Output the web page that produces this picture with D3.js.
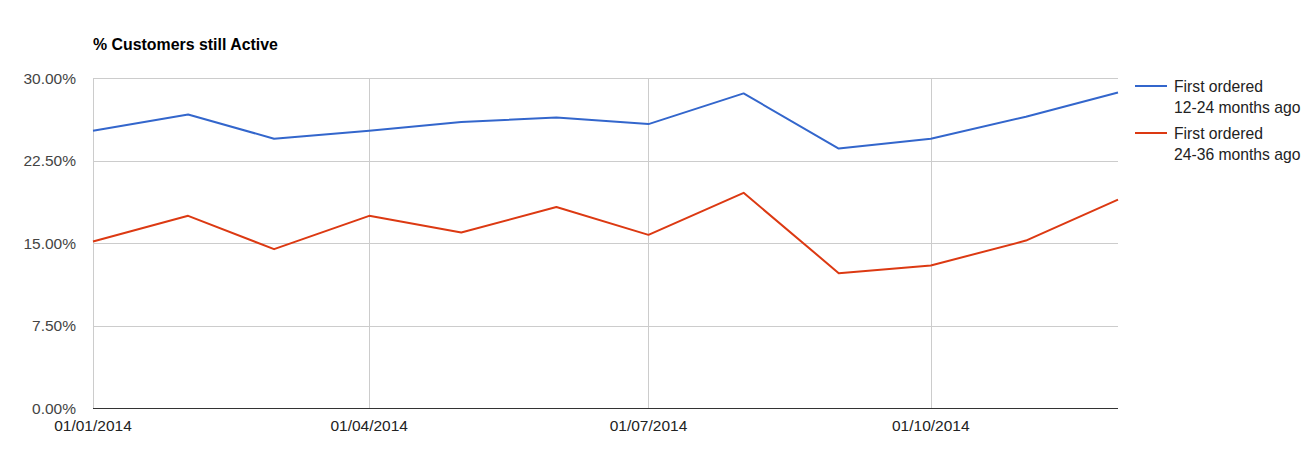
<!DOCTYPE html>
<html>
<head>
<meta charset="utf-8">
<script src="https://cdn.jsdelivr.net/npm/d3@7/dist/d3.min.js"></script>
<style>
  html, body { margin: 0; padding: 0; background: #fff; }
  svg { display: block; font-family: "Liberation Sans", Arial, sans-serif; }
</style>
</head>
<body>
<svg id="chart" width="1311" height="457"></svg>
<script>
const months = ["2014-01-01","2014-02-01","2014-03-01","2014-04-01","2014-05-01","2014-06-01",
                "2014-07-01","2014-08-01","2014-09-01","2014-10-01","2014-11-01","2014-12-01"];
const series1Name = ["First ordered", "12-24 months ago"];
const series2Name = ["First ordered", "24-36 months ago"];
const series1 = [25.20, 26.68, 24.48, 25.20, 26.00, 26.40, 25.81, 28.60, 23.59, 24.48, 26.48, 28.69];
const series2 = [15.13, 17.47, 14.44, 17.47, 15.95, 18.27, 15.74, 19.56, 12.26, 12.95, 15.22, 18.95];
const yTicks = [0, 7.5, 15, 22.5, 30];
const xTicks = ["2014-01-01","2014-04-01","2014-07-01","2014-10-01"];
const title = "% Customers still Active";

(function () {
const parse = d3.utcParse("%Y-%m-%d");
const fmtDate = d3.utcFormat("%d/%m/%Y");
const dates = months.map(parse);

const svg = d3.select("#chart");
const mLeft = 93, mRight = 1118, mTop = 78, mBottom = 408;

const x = d3.scaleUtc().domain([dates[0], dates[dates.length - 1]]).range([mLeft, mRight]);
const y = d3.scaleLinear().domain([0, 30]).range([mBottom, mTop]);

// horizontal gridlines
svg.append("g").selectAll("line").data(yTicks.filter(t => t > 0)).join("line")
  .attr("x1", mLeft).attr("x2", mRight)
  .attr("y1", d => Math.round(y(d)) + 0.5).attr("y2", d => Math.round(y(d)) + 0.5)
  .attr("stroke", "#cccccc").attr("stroke-width", 1);

// vertical gridlines
svg.append("g").selectAll("line").data(xTicks.map(parse)).join("line")
  .attr("x1", d => Math.round(x(d)) + 0.5).attr("x2", d => Math.round(x(d)) + 0.5)
  .attr("y1", mTop).attr("y2", mBottom)
  .attr("stroke", "#cccccc").attr("stroke-width", 1);

// baseline
svg.append("line")
  .attr("x1", mLeft).attr("x2", mRight)
  .attr("y1", mBottom + 0.5).attr("y2", mBottom + 0.5)
  .attr("stroke", "#333333").attr("stroke-width", 1);

// y labels
svg.append("g").selectAll("text").data(yTicks).join("text")
  .attr("x", 76).attr("y", d => y(d) + 5.5)
  .attr("text-anchor", "end")
  .attr("font-size", "15.5px").attr("fill", "#444444")
  .text(d => d.toFixed(2) + "%");

// x labels
svg.append("g").selectAll("text").data(xTicks.map(parse)).join("text")
  .attr("x", d => x(d)).attr("y", 431)
  .attr("text-anchor", "middle")
  .attr("font-size", "15.5px").attr("fill", "#222222")
  .text(d => fmtDate(d));

// title
svg.append("text")
  .attr("x", mLeft).attr("y", 50)
  .attr("font-size", "15.9px").attr("font-weight", "bold").attr("fill", "#000")
  .text(title);

const line = d3.line().x(d => x(d[0])).y(d => y(d[1]));
const colors = ["#3366cc", "#dc3912"];
[series1, series2].forEach((s, i) => {
  svg.append("path")
    .datum(dates.map((d, j) => [d, s[j]]))
    .attr("d", line)
    .attr("fill", "none")
    .attr("stroke", colors[i])
    .attr("stroke-width", 2)
    .attr("stroke-linejoin", "round");
});

// legend
const legend = [
  { name: series1Name, color: colors[0], ly: 86 },
  { name: series2Name, color: colors[1], ly: 133 }
];
legend.forEach(l => {
  svg.append("line")
    .attr("x1", 1135).attr("x2", 1167)
    .attr("y1", l.ly).attr("y2", l.ly)
    .attr("stroke", l.color).attr("stroke-width", 2);
  const t = svg.append("text")
    .attr("x", 1174).attr("y", l.ly + 6)
    .attr("font-size", "15.7px").attr("fill", "#222222");
  l.name.forEach((n, k) => {
    t.append("tspan").attr("x", 1174).attr("dy", k === 0 ? 0 : 21).text(n);
  });
});
})();
</script>
</body>
</html>
